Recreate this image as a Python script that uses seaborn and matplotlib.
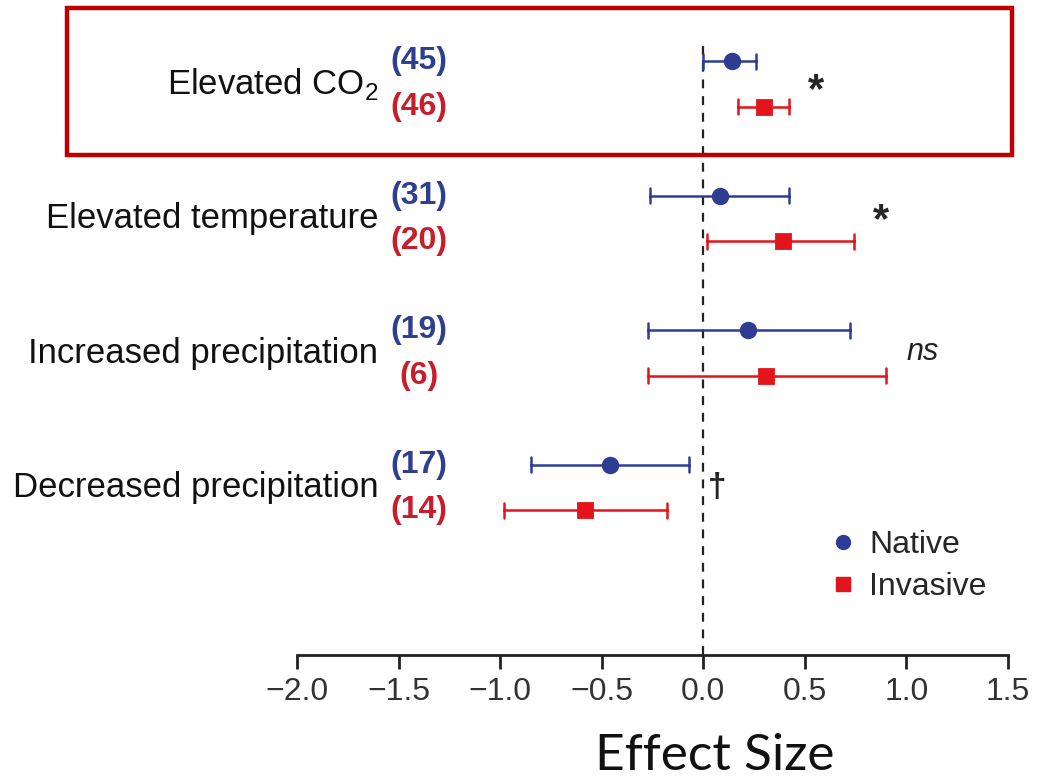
import numpy as np
import pandas as pd
import matplotlib
matplotlib.use("Agg")
import matplotlib.pyplot as plt
from matplotlib.lines import Line2D
from matplotlib.patches import Rectangle
import seaborn as sns

# ---------------- data ----------------
groups = ["Elevated CO$_\\mathregular{2}$", "Elevated temperature",
          "Increased precipitation", "Decreased precipitation"]
native_est = [0.14, 0.08, 0.22, -0.46]
native_lo = [0.00, -0.26, -0.27, -0.85]
native_hi = [0.26, 0.42, 0.72, -0.07]
invasive_est = [0.30, 0.39, 0.31, -0.58]
invasive_lo = [0.17, 0.02, -0.27, -0.98]
invasive_hi = [0.42, 0.74, 0.90, -0.18]
native_n = [45, 31, 19, 17]
invasive_n = [46, 20, 6, 14]
signif = ["*", "*", "ns", "\u2020"]
xticks = [-2.0, -1.5, -1.0, -0.5, 0.0, 0.5, 1.0, 1.5]
types = ["Native", "Invasive"]

# ---------------- style ----------------
sns.set_theme(style="white")
plt.rcParams["font.family"] = ["Liberation Sans", "DejaVu Sans"]
plt.rcParams["mathtext.fontset"] = "custom"
plt.rcParams["mathtext.rm"] = "Liberation Sans"

BLUE = "#2E3D93"
RED = "#E3141B"
BLUE_TXT = "#2D3F8E"
RED_TXT = "#C91D2B"

# long-form table: lower, estimate, upper for each group/type
rows = []
for i, g in enumerate(groups):
    for v in (native_lo[i], native_est[i], native_hi[i]):
        rows.append({"group": g, "type": "Native", "value": v})
    for v in (invasive_lo[i], invasive_est[i], invasive_hi[i]):
        rows.append({"group": g, "type": "Invasive", "value": v})
df = pd.DataFrame(rows)

fig = plt.figure(figsize=(10.37, 7.8), dpi=100)
ax = fig.add_axes([297 / 1037, 125 / 780, 711 / 1037, 615 / 780])

ax.axvline(0, color="#222222", lw=1.6, ls=(0, (4, 3.5)), zorder=0)

sns.pointplot(data=df, x="value", y="group", hue="type", order=groups,
              hue_order=types, estimator="median",
              errorbar=lambda v: (v.min(), v.max()),
              dodge=0.34, markers=["o", "s"], linestyles="none",
              palette=[BLUE, RED], capsize=0.11,
              err_kws={"linewidth": 1.8}, markersize=10.5,
              legend=False, orient="h", ax=ax)

ax.set_xlim(-2.0, 1.5)
ax.set_ylim(4.245, -0.327)
ax.set_xticks(xticks)
ax.set_xticklabels(["\u2212%.1f" % abs(t) if t < 0 else "%.1f" % t for t in xticks])
ax.set_yticks([])
ax.set_xlabel("")
ax.set_ylabel("")
for s in ["top", "right", "left"]:
    ax.spines[s].set_visible(False)
ax.spines["bottom"].set_linewidth(2.0)
ax.spines["bottom"].set_color("#222222")
ax.tick_params(axis="x", direction="out", length=10, width=2.0, color="#222222",
               labelsize=23, labelcolor="#333333", pad=6, bottom=True)

# group labels and counts
for i, g in enumerate(groups):
    ax.text(-1.60, i, g, ha="right", va="center", fontsize=25, color="#111111")
    ax.text(-1.40, i - 0.17, "(%d)" % native_n[i], ha="center", va="center",
            fontsize=23, fontweight="bold", color=BLUE_TXT)
    ax.text(-1.40, i + 0.17, "(%d)" % invasive_n[i], ha="center", va="center",
            fontsize=23, fontweight="bold", color=RED_TXT)

# significance marks
ax.text(0.556, 0.05, signif[0], ha="center", va="center", fontsize=30, fontweight="bold")
ax.text(0.876, 1.02, signif[1], ha="center", va="center", fontsize=30, fontweight="bold")
ax.text(1.08, 1.99, signif[2], ha="center", va="center", fontsize=22, style="italic",
        color="#222222")
ax.text(0.07, 3.0, signif[3], ha="center", va="center", fontsize=24, fontweight="bold")

# legend
handles = [Line2D([], [], marker="o", ls="none", color=BLUE, markersize=10),
           Line2D([], [], marker="s", ls="none", color=RED, markersize=10)]
leg = ax.legend(handles, types, loc="center left", bbox_to_anchor=(0.71, 0.145),
                frameon=False, fontsize=23, handlelength=0.8, handletextpad=0.4,
                labelspacing=0.38)

# x label
fig.text(715 / 1037, 1 - 756 / 780, "Effect Size", ha="center", va="center",
         fontsize=37, family="Lato", color="#111111")

# highlight rectangle
fig.patches.append(Rectangle((67 / 1037, 1 - 155 / 780), 945 / 1037, 147 / 780,
                             transform=fig.transFigure, fill=False,
                             edgecolor="#C00000", linewidth=3.2))

fig.savefig("out.png", dpi=100, facecolor="white")
